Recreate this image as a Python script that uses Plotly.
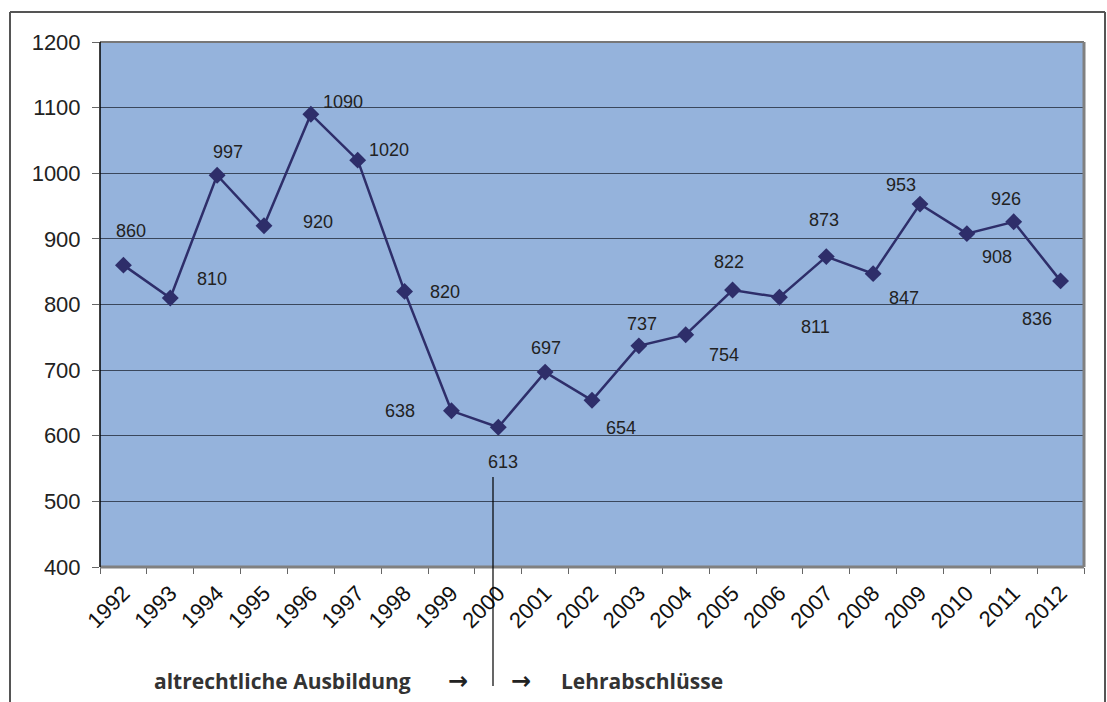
import plotly.graph_objects as go

years = [str(y) for y in range(1992, 2013)]
values = [860, 810, 997, 920, 1090, 1020, 820, 638, 613, 697, 654, 737, 754, 822, 811, 873, 847, 953, 908, 926, 836]
# label offsets in pixels (dx, dy down-positive)
label_dx = [8, 42, 11, 54, 32, 31, 40, -51, 5, 1, 29, 3, 38, -4, 36, -2, 31, -19, 30, -8, -24]
label_dy = [-34, -19, -23, -4, -12, -10, 1, 0, 35, -24, 28, -22, 20, -28, 30, -37, 24, -19, 23, -23, 38]

line_color = "#2E2E6A"
fig = go.Figure()
fig.add_trace(go.Scatter(
    x=years, y=values, mode="lines+markers",
    line=dict(color=line_color, width=2.5),
    marker=dict(symbol="diamond", size=13, color=line_color),
    hoverinfo="x+y", showlegend=False,
))

for i, (v, dx, dy) in enumerate(zip(values, label_dx, label_dy)):
    fig.add_annotation(x=i, y=v, text=str(v), showarrow=False,
                       xshift=dx, yshift=-dy,
                       font=dict(family="Liberation Sans, Arial", size=18, color="#222222"))

ybot = (567 - 681) / 525
txt_font = dict(family="Open Sans", size=21, color="#333333")
arr_font = dict(family="DejaVu Sans", size=24, color="#222222")
fig.add_annotation(x=(152 - 100) / 984, y=ybot, xref="paper", yref="paper",
                   xanchor="left", yanchor="middle",
                   text="<b>altrechtliche Ausbildung</b>", showarrow=False, font=txt_font)
fig.add_annotation(x=(458 - 100) / 984, y=ybot, xref="paper", yref="paper",
                   xanchor="center", yanchor="middle",
                   text="<b>→</b>", showarrow=False, font=arr_font)
fig.add_annotation(x=(521 - 100) / 984, y=ybot, xref="paper", yref="paper",
                   xanchor="center", yanchor="middle",
                   text="<b>→</b>", showarrow=False, font=arr_font)
fig.add_annotation(x=(559 - 100) / 984, y=ybot, xref="paper", yref="paper",
                   xanchor="left", yanchor="middle",
                   text="<b>Lehrabschlüsse</b>", showarrow=False, font=txt_font)

shapes = [
    dict(type="line", xref="paper", yref="paper", x0=0, x1=1, y0=1, y1=1, line=dict(color="#777777", width=2)),
    dict(type="line", xref="paper", yref="paper", x0=1, x1=1, y0=0, y1=1, line=dict(color="#808080", width=3)),
    dict(type="line", xref="paper", yref="paper", x0=0, x1=1, y0=0, y1=0, line=dict(color="#808080", width=3)),
    dict(type="line", xref="paper", yref="paper", x0=0, x1=0, y0=0, y1=1, line=dict(color="#000000", width=1.5)),
    dict(type="line", xref="paper", yref="paper", x0=(10 - 100) / 984, x1=(1105 - 100) / 984,
         y0=(567 - 12) / 525, y1=(567 - 12) / 525, line=dict(color="#555555", width=2)),
    dict(type="line", xref="paper", yref="paper", x0=(10 - 100) / 984, x1=(10 - 100) / 984,
         y0=(567 - 12) / 525, y1=(567 - 710) / 525, line=dict(color="#555555", width=2)),
    dict(type="line", xref="paper", yref="paper", x0=(1105 - 100) / 984, x1=(1105 - 100) / 984,
         y0=(567 - 12) / 525, y1=(567 - 710) / 525, line=dict(color="#555555", width=2)),
    dict(type="line", xref="paper", yref="paper", x0=(493 - 100) / 984, x1=(493 - 100) / 984,
         y0=(567 - 477) / 525, y1=(567 - 686) / 525, line=dict(color="#000000", width=1.2)),
]

fig.update_layout(
    width=1107, height=702,
    margin=dict(l=100, r=23, t=42, b=135),
    paper_bgcolor="white", plot_bgcolor="#95B3DC",
    shapes=shapes,
    xaxis=dict(type="category", range=[-0.5, len(years) - 0.5], tickangle=-45, ticks="outside",
               tickson="boundaries", ticklen=6, tickcolor="#666666", showgrid=False, showline=False,
               ticklabelstandoff=8,
               tickfont=dict(family="Liberation Sans, Arial", size=22, color="#111111")),
    yaxis=dict(range=[400, 1200], dtick=100, ticks="outside", ticklen=7, tickcolor="#666666",
               showgrid=True, gridcolor="#3A475C", gridwidth=1, zeroline=False, showline=False,
               ticklabelstandoff=7,
               tickfont=dict(family="Liberation Sans, Arial", size=22, color="#222222")),
)

fig.write_html("out.html")
